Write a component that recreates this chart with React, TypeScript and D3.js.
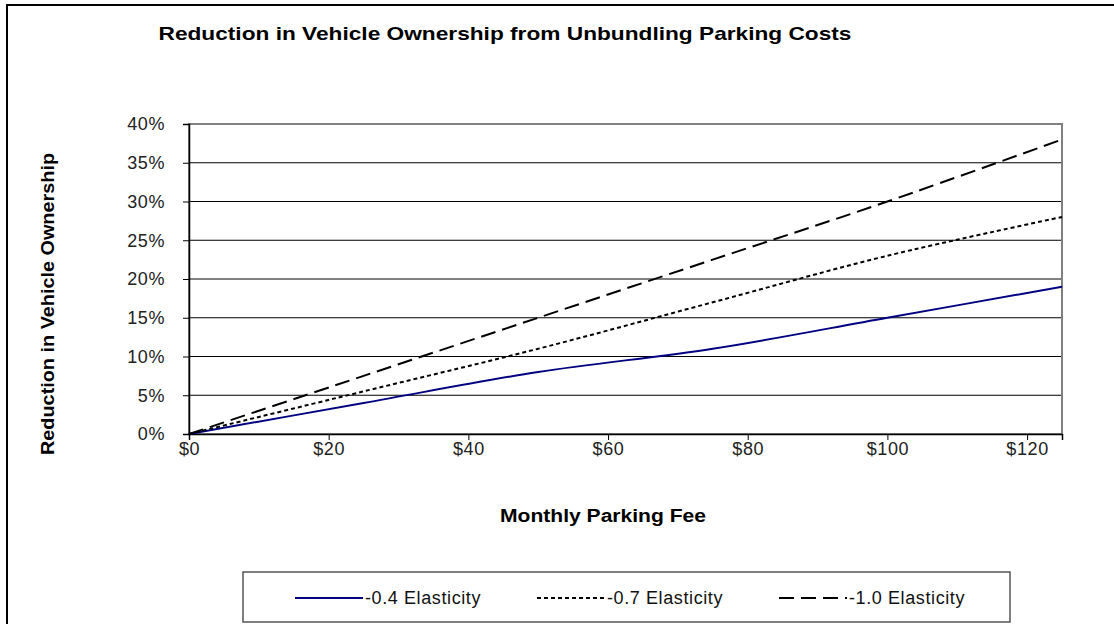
import React, { useEffect, useRef } from "react";
import * as d3 from "d3";

const fees = [0, 25, 50, 75, 100, 125];
const elastic04 = [0, 0.04, 0.08, 0.11, 0.15, 0.19];
const elastic07 = [0, 0.055, 0.11, 0.17, 0.23, 0.28];
const elastic10 = [0, 0.075, 0.15, 0.225, 0.30, 0.38];
const seriesNames = ["-0.4 Elasticity", "-0.7 Elasticity", "-1.0 Elasticity"];
const xTicks = [0, 20, 40, 60, 80, 100, 120];
const yTicks = [0, 0.05, 0.1, 0.15, 0.2, 0.25, 0.3, 0.35, 0.4];

const FONT = "'Liberation Sans', Arial, sans-serif";

function App() {
  const ref = useRef<SVGSVGElement | null>(null);

  useEffect(() => {
    const svg = d3.select(ref.current);
    svg.selectAll("*").remove();

    const width = 1114;
    const height = 624;
    const left = 189, right = 1062, top = 124, bottom = 434;

    // outer frame
    svg.append("rect")
      .attr("x", 7).attr("y", 5)
      .attr("width", width + 10).attr("height", height + 10)
      .attr("fill", "white").attr("stroke", "#000").attr("stroke-width", 2);

    svg.append("text")
      .attr("x", 505).attr("y", 40)
      .attr("text-anchor", "middle")
      .attr("font-family", FONT).attr("font-size", 19).attr("font-weight", "bold")
      .attr("textLength", 693).attr("lengthAdjust", "spacingAndGlyphs")
      .text("Reduction in Vehicle Ownership from Unbundling Parking Costs");

    const x = d3.scaleLinear().domain([0, 125]).range([left, right]);
    const y = d3.scaleLinear().domain([0, 0.4]).range([bottom, top]);

    // gridlines
    svg.append("g").selectAll("line")
      .data(yTicks.slice(1, -1))
      .enter().append("line")
      .attr("x1", left).attr("x2", right)
      .attr("y1", d => y(d)).attr("y2", d => y(d))
      .attr("stroke", "#000").attr("stroke-width", 1);

    // plot border
    svg.append("rect")
      .attr("x", left).attr("y", top)
      .attr("width", right - left).attr("height", bottom - top)
      .attr("fill", "none").attr("stroke", "#808080").attr("stroke-width", 2);

    const yAxis = svg.append("g")
      .attr("transform", `translate(${left},0)`)
      .call(d3.axisLeft(y).tickValues(yTicks).tickFormat(d3.format(".0%")).tickSize(6).tickPadding(18));
    yAxis.select(".domain").attr("stroke", "#000").attr("stroke-width", 1.5);
    yAxis.selectAll(".tick line").attr("stroke", "#000");
    yAxis.selectAll("text")
      .attr("font-family", FONT).attr("font-size", 18).attr("letter-spacing", 0.6).attr("fill", "#222");

    const xAxis = svg.append("g")
      .attr("transform", `translate(0,${bottom})`)
      .call(d3.axisBottom(x).tickValues(xTicks).tickFormat(d => `$${d}`).tickSize(6).tickPadding(2));
    xAxis.select(".domain").attr("stroke", "#000").attr("stroke-width", 1.5);
    xAxis.selectAll(".tick line").attr("stroke", "#000");
    xAxis.selectAll("text")
      .attr("font-family", FONT).attr("font-size", 18).attr("letter-spacing", 0.6).attr("fill", "#222");

    const line = d3.line<number>()
      .x((_, i) => x(fees[i]))
      .y(d => y(d))
      .curve(d3.curveCatmullRom.alpha(0.5));

    const styles = [
      { data: elastic04, color: "#000080", dash: null },
      { data: elastic07, color: "#000", dash: "4,3" },
      { data: elastic10, color: "#000", dash: "15,7" },
    ];

    styles.forEach(s => {
      svg.append("path")
        .datum(s.data)
        .attr("d", line)
        .attr("fill", "none")
        .attr("stroke", s.color)
        .attr("stroke-width", 2)
        .attr("stroke-dasharray", s.dash);
    });

    svg.append("text")
      .attr("x", 603).attr("y", 522)
      .attr("text-anchor", "middle")
      .attr("font-family", FONT).attr("font-size", 18).attr("font-weight", "bold")
      .attr("textLength", 206).attr("lengthAdjust", "spacingAndGlyphs")
      .text("Monthly Parking Fee");

    svg.append("text")
      .attr("transform", `translate(54,304) rotate(-90)`)
      .attr("text-anchor", "middle")
      .attr("font-family", FONT).attr("font-size", 18).attr("font-weight", "bold")
      .attr("textLength", 302).attr("lengthAdjust", "spacingAndGlyphs")
      .text("Reduction in Vehicle Ownership");

    // legend
    svg.append("rect")
      .attr("x", 243).attr("y", 572).attr("width", 767).attr("height", 50)
      .attr("fill", "white").attr("stroke", "#555").attr("stroke-width", 1.5);

    const legendX = [295, 537, 779];
    styles.forEach((s, i) => {
      svg.append("line")
        .attr("x1", legendX[i]).attr("x2", legendX[i] + 68)
        .attr("y1", 598).attr("y2", 598)
        .attr("stroke", s.color).attr("stroke-width", 2)
        .attr("stroke-dasharray", s.dash);
      svg.append("text")
        .attr("x", legendX[i] + 70).attr("y", 604)
        .attr("font-family", FONT).attr("font-size", 18).attr("letter-spacing", 0.6).attr("fill", "#111")
        .text(seriesNames[i]);
    });
  }, []);

  return (
    <div style={{ position: "absolute", left: 0, top: 0 }}>
      <svg ref={ref} width={1114} height={624} style={{ display: "block" }} />
    </div>
  );
}

export default App;
